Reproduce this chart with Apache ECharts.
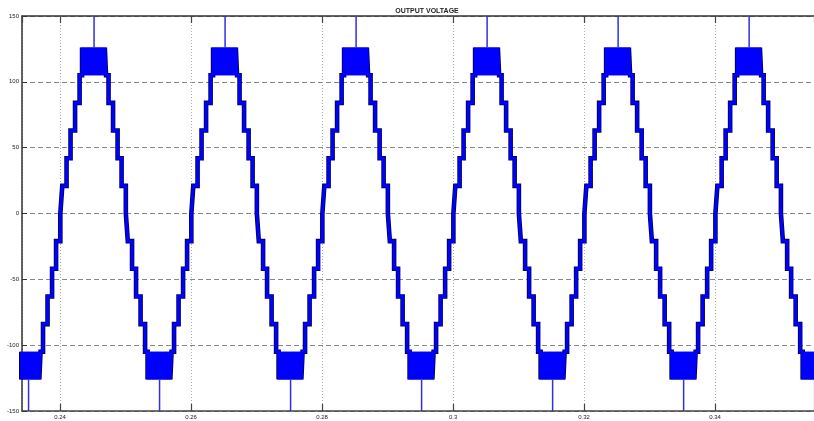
<!DOCTYPE html>
<html>
<head>
<meta charset="utf-8">
<script src="https://cdn.jsdelivr.net/npm/echarts@6/dist/echarts.min.js"></script>
<style>
html,body{margin:0;padding:0;background:#fff;}
#c{width:814px;height:421px;}
</style>
</head>
<body>
<div id="c"></div>
<script>
// ---- data ----
const titleText = 'OUTPUT VOLTAGE';
// rising zero crossings of each visible cycle (s)
const cycleStarts = [0.2202, 0.2402, 0.2602, 0.2802, 0.3002, 0.3202, 0.3402];
// one cycle of the staircase: switching instants (ms after the rising zero crossing)
const stepTimesMs = [
  0.00, 0.15, 0.80, 1.41, 2.10, 2.79,
  3.17, 3.36, 3.52, 3.71, 3.88, 4.07, 4.24, 4.43, 4.60, 4.79, 4.95,
  5.05, 5.21, 5.40, 5.57, 5.76, 5.93, 6.12, 6.29, 6.48, 6.64, 6.83,
  7.21, 7.90, 8.59, 9.20, 9.85,
  10.15, 10.80, 11.41, 12.10, 12.79,
  13.17, 13.36, 13.52, 13.71, 13.88, 14.07, 14.24, 14.43, 14.60, 14.79, 14.95,
  15.05, 15.21, 15.40, 15.57, 15.76, 15.93, 16.12, 16.29, 16.48, 16.64, 16.83,
  17.21, 17.90, 18.59, 19.20, 19.85
];
// output level (V) held from each switching instant
const stepLevels = [
  0, 21, 42, 63, 84, 105,
  126, 105, 126, 105, 126, 105, 126, 105, 126, 105, 126,
  105, 126, 105, 126, 105, 126, 105, 126, 105, 126, 105,
  84, 63, 42, 21, 0,
  -21, -42, -63, -84, -105,
  -126, -105, -126, -105, -126, -105, -126, -105, -126, -105, -126,
  -105, -126, -105, -126, -105, -126, -105, -126, -105, -126, -105,
  -84, -63, -42, -21, 0
];
// narrow spikes at the crest and trough of every cycle
const spikeTimesMs = [5.0, 15.0];
const spikeFrom = [126, -126];
const spikeTo = [150, -150];
const xMin = 0.2342, xMax = 0.3551;
const yTicks = [-150, -100, -50, 0, 50, 100, 150];

// ---- build series ----
const wave = [];
cycleStarts.forEach(c => {
  stepTimesMs.forEach((ms, i) => wave.push([c + ms / 1000, stepLevels[i]]));
});
const spikes = [];
cycleStarts.forEach(c => {
  spikeTimesMs.forEach((ms, i) => {
    const t = c + ms / 1000;
    spikes.push([t, spikeFrom[i]], [t, spikeTo[i]], [t, null]);
  });
});

const chart = echarts.init(document.getElementById('c'), null, {renderer: 'canvas'});
const fontFam = '"Liberation Sans Narrow","Liberation Sans",Arial,sans-serif';
chart.setOption({
  animation: false,
  backgroundColor: '#fff',
  title: {
    text: titleText, left: 422, top: 3, textAlign: 'center',
    textStyle: {fontSize: 7, fontWeight: 'bold', color: '#222', fontFamily: fontFam}
  },
  grid: {left: 22, right: 0, top: 16, bottom: 10, containLabel: false},
  xAxis: [{
    type: 'value', min: xMin, max: xMax, splitNumber: 6, position: 'bottom',
    axisLine: {show: true, onZero: false, lineStyle: {color: '#444', width: 1.5}},
    axisTick: {show: true, inside: true, length: 7, lineStyle: {color: '#444', width: 1.2}},
    axisLabel: {show: true, fontSize: 6, color: '#222', margin: 3, fontFamily: fontFam,
      showMinLabel: false, showMaxLabel: false},
    splitLine: {show: true, lineStyle: {color: '#aaa', type: [1, 2], width: 1}}
  }, {
    type: 'value', min: xMin, max: xMax, splitNumber: 6, position: 'top',
    axisLine: {show: true, onZero: false, lineStyle: {color: '#333', width: 1.5}},
    axisTick: {show: true, inside: true, length: 7, lineStyle: {color: '#444', width: 1.2}},
    axisLabel: {show: false}, splitLine: {show: false}
  }],
  yAxis: {
    type: 'value', min: yTicks[0], max: yTicks[yTicks.length - 1], interval: 50,
    axisLine: {show: true, onZero: false, lineStyle: {color: '#333', width: 1.5}},
    axisTick: {show: true, inside: true, length: 5, lineStyle: {color: '#333'}},
    axisLabel: {fontSize: 6, color: '#222', margin: 3, fontFamily: fontFam},
    splitLine: {show: true, lineStyle: {color: '#888', type: [5, 3], width: 1}}
  },
  series: [{
    type: 'line', data: wave, step: 'end', showSymbol: false, symbol: 'none',
    lineStyle: {color: '#000050', width: 4.6, join: 'miter', cap: 'butt'}, silent: true, z: 2
  }, {
    type: 'line', data: wave, step: 'end', showSymbol: false, symbol: 'none',
    lineStyle: {color: '#0000ff', width: 3, join: 'miter', cap: 'butt'}, silent: true, z: 3
  }, {
    type: 'line', data: spikes, showSymbol: false, symbol: 'none', connectNulls: false,
    lineStyle: {color: '#3030e0', width: 1.5}, silent: true, z: 4
  }]
});
</script>
</body>
</html>
